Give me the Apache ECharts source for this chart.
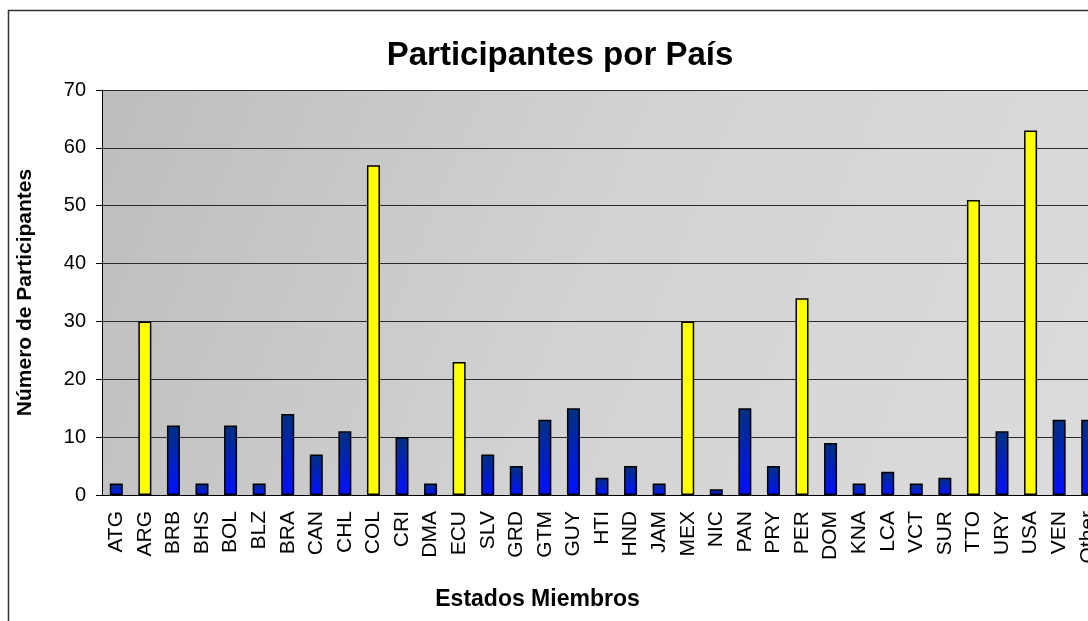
<!DOCTYPE html>
<html>
<head>
<meta charset="utf-8">
<title>Participantes por País</title>
<script src="https://cdn.jsdelivr.net/npm/echarts@6/dist/echarts.min.js"></script>
<style>
  html, body { margin: 0; padding: 0; background: #fff; overflow: hidden; }
  #chart { width: 1120px; height: 621px; }
</style>
</head>
<body>
<div id="chart"></div>
<script>
  // countries in the order the original sheet lists them
  const categories = ['ATG', 'ARG', 'BRB', 'BHS', 'BOL', 'BLZ', 'BRA', 'CAN', 'CHL', 'COL',
    'CRI', 'DMA', 'ECU', 'SLV', 'GRD', 'GTM', 'GUY', 'HTI', 'HND', 'JAM',
    'MEX', 'NIC', 'PAN', 'PRY', 'PER', 'DOM', 'KNA', 'LCA', 'VCT', 'SUR',
    'TTO', 'URY', 'USA', 'VEN', 'Other']
  const participants = [2, 30, 12, 2, 12, 2, 14, 7, 11, 57,
    10, 2, 23, 7, 5, 13, 15, 3, 5, 2,
    30, 1, 15, 5, 34, 9, 2, 4, 2, 3,
    51, 11, 63, 13, 13]
  // countries drawn in yellow
  const highlighted = ['ARG', 'COL', 'ECU', 'MEX', 'PER', 'TTO', 'USA']
  const yMin = 0
  const yMax = 70
  const yStep = 10

  const font = '"Liberation Sans", Arial, sans-serif'
  const blue = new echarts.graphic.LinearGradient(0, 0, 0, 1, [
    { offset: 0, color: '#00307e' },
    { offset: 1, color: '#0010ff' }
  ])

  const chart = echarts.init(document.getElementById('chart'))
  chart.setOption({
    backgroundColor: '#ffffff',
    animation: false,
    title: {
      text: 'Participantes por País',
      left: 'center',
      top: 34,
      textStyle: {
        fontFamily: font,
        fontSize: 33,
        fontWeight: 'bold',
        color: '#000'
      }
    },
    graphic: [{
      type: 'rect',
      silent: true,
      shape: { x: 8.5, y: 10.5, width: 1102, height: 640 },
      style: { fill: 'none', stroke: '#333', lineWidth: 1.5 }
    }],
    grid: {
      left: 102,
      right: 18,
      top: 90,
      bottom: 126,
      show: true,
      borderWidth: 0,
      backgroundColor: new echarts.graphic.LinearGradient(0, 0, 1, 1, [
        { offset: 0, color: '#bdbdbd' },
        { offset: 0.5, color: '#d3d3d3' },
        { offset: 1, color: '#dcdcdc' }
      ])
    },
    xAxis: {
      type: 'category',
      data: categories,
      name: 'Estados Miembros',
      nameLocation: 'middle',
      nameGap: 93,
      nameTextStyle: {
        fontFamily: font,
        fontSize: 23,
        fontWeight: 'bold',
        color: '#000',
        padding: [0, 129, 0, 0]
      },
      axisLine: { lineStyle: { color: '#000', width: 1 } },
      axisTick: { length: 6, lineStyle: { color: '#000' } },
      axisLabel: {
        rotate: 90,
        interval: 0,
        margin: 16,
        fontFamily: font,
        fontSize: 21,
        color: '#000'
      }
    },
    yAxis: {
      type: 'value',
      min: yMin,
      max: yMax,
      interval: yStep,
      name: 'Número de Participantes',
      nameLocation: 'middle',
      nameGap: 66,
      nameTextStyle: {
        fontFamily: font,
        fontSize: 21,
        fontWeight: 'bold',
        color: '#000'
      },
      axisLine: { show: true, lineStyle: { color: '#000', width: 1 } },
      axisTick: { show: true, length: 6, lineStyle: { color: '#000' } },
      axisLabel: {
        margin: 16,
        fontFamily: font,
        fontSize: 20,
        color: '#000'
      },
      splitLine: { lineStyle: { color: '#2a2a2a', width: 1 } }
    },
    series: [{
      type: 'bar',
      data: participants,
      barWidth: 13,
      itemStyle: {
        borderColor: '#000',
        borderWidth: 1.5,
        color: (p) => highlighted.includes(categories[p.dataIndex]) ? '#ffff00' : blue
      }
    }]
  })
</script>
</body>
</html>
